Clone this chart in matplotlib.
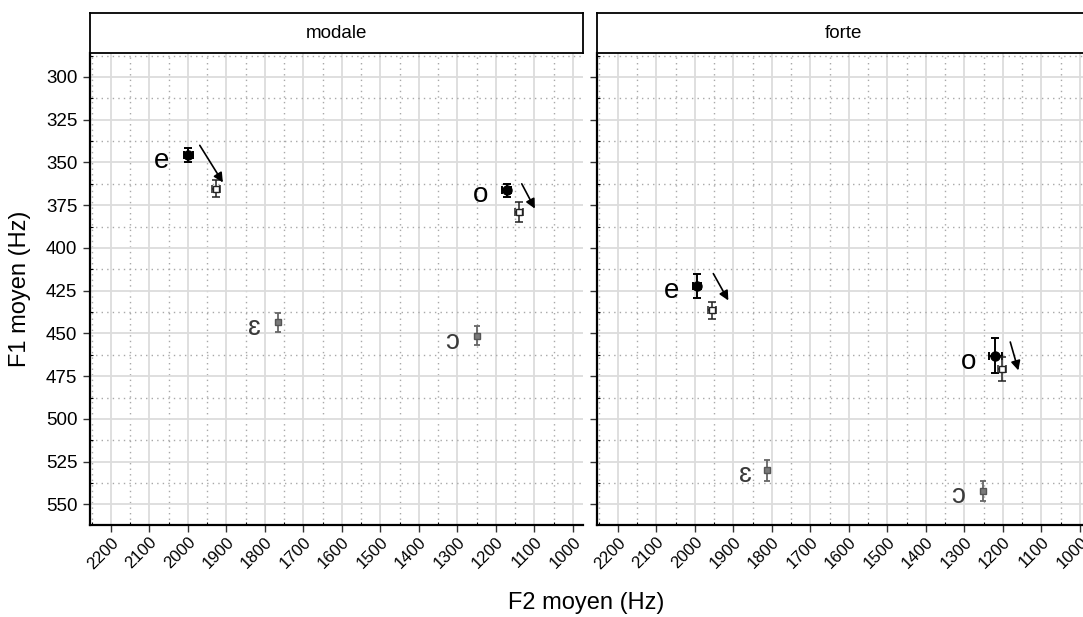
import matplotlib.pyplot as plt
from matplotlib.ticker import MultipleLocator

# police type Arial, repli DejaVu pour les symboles API
plt.rcParams['font.family'] = ['Liberation Sans', 'DejaVu Sans']

panneaux = ['modale', 'forte']

# voyelles e / o : point noir (avant) et point hachuré (après)
voy_ferm = ['e', 'o']
modale_f2_noir = [1999, 1172]
modale_f1_noir = [345.5, 366.4]
modale_ef2_noir = [12, 12]
modale_ef1_noir = [4, 4]
modale_f2_hach = [1927, 1140]
modale_f1_hach = [365.4, 379]
modale_ef2_hach = [10, 10]
modale_ef1_hach = [5, 6]

forte_f2_noir = [1993.5, 1220]
forte_f1_noir = [422, 462.9]
forte_ef2_noir = [10, 17]
forte_ef1_noir = [7, 10]
forte_f2_hach = [1956, 1203]
forte_f1_hach = [436.5, 470.6]
forte_ef2_hach = [10, 10]
forte_ef1_hach = [5, 7]

# voyelles ɛ / ɔ : point gris
voy_ouv = ['ɛ', 'ɔ']
modale_f2_gris = [1767, 1249]
modale_f1_gris = [443.4, 451.2]
modale_ef1_gris = [5.5, 5.5]
forte_f2_gris = [1813, 1251]
forte_f1_gris = [530, 542]
forte_ef1_gris = [6, 6]

# position des étiquettes (F2, F1)
modale_lab_f2 = [2067, 1241, 1826, 1315]
modale_lab_f1 = [349, 369, 447, 455]
forte_lab_f2 = [2060, 1290, 1870, 1316]
forte_lab_f1 = [425, 466.8, 533, 545]

# flèches (début -> fin)
modale_fl_f2 = [(1969, 1909), (1133, 1099)]
modale_fl_f1 = [(340, 361.7), (362.5, 377)]
forte_fl_f2 = [(1952, 1913), (1181, 1160)]
forte_fl_f1 = [(415, 430.7), (455, 471.6)]

donnees = {
    'modale': dict(f2n=modale_f2_noir, f1n=modale_f1_noir, ef2n=modale_ef2_noir, ef1n=modale_ef1_noir,
                   f2h=modale_f2_hach, f1h=modale_f1_hach, ef2h=modale_ef2_hach, ef1h=modale_ef1_hach,
                   f2g=modale_f2_gris, f1g=modale_f1_gris, ef1g=modale_ef1_gris,
                   lx=modale_lab_f2, ly=modale_lab_f1, ax_=modale_fl_f2, ay_=modale_fl_f1),
    'forte': dict(f2n=forte_f2_noir, f1n=forte_f1_noir, ef2n=forte_ef2_noir, ef1n=forte_ef1_noir,
                  f2h=forte_f2_hach, f1h=forte_f1_hach, ef2h=forte_ef2_hach, ef1h=forte_ef1_hach,
                  f2g=forte_f2_gris, f1g=forte_f1_gris, ef1g=forte_ef1_gris,
                  lx=forte_lab_f2, ly=forte_lab_f1, ax_=forte_fl_f2, ay_=forte_fl_f1),
}

fig = plt.figure(figsize=(10.83, 6.17), dpi=100)

W = 493 / 1083
H = 472 / 617
B = 1 - 525 / 617
gauches = [90 / 1083, 597 / 1083]

for i, nom in enumerate(panneaux):
    d = donnees[nom]
    ax = fig.add_axes([gauches[i], B, W, H])
    ax.set_xlim(2254, 974)
    ax.set_ylim(562, 286)

    ax.xaxis.set_major_locator(MultipleLocator(100))
    ax.xaxis.set_minor_locator(MultipleLocator(50))
    ax.yaxis.set_major_locator(MultipleLocator(25))
    ax.yaxis.set_minor_locator(MultipleLocator(12.5))
    ax.grid(which='major', color='#dcdcdc', lw=1.3, ls='-')
    ax.grid(which='minor', color='#a8a8a8', lw=1, ls=(0, (1, 3)))
    ax.set_axisbelow(True)

    for s in ['top', 'right']:
        ax.spines[s].set_visible(False)
    for s in ['left', 'bottom']:
        ax.spines[s].set_linewidth(1.6)
        ax.spines[s].set_color('black')

    ax.tick_params(which='major', length=5, width=1, color='#333333')
    ax.tick_params(axis='y', labelsize=13.5, pad=4)
    ax.tick_params(which='minor', length=2.5, width=0.8, direction='in', color='black')
    ax.tick_params(axis='x', labelsize=12, pad=2)
    plt.setp(ax.get_xticklabels(), rotation=45, ha='right', rotation_mode='anchor')
    if i == 1:
        ax.tick_params(axis='y', labelleft=False)

    # points noirs
    ax.errorbar(d['f2n'], d['f1n'], xerr=d['ef2n'], yerr=d['ef1n'], fmt='o', color='black',
                ms=6.5, lw=1.4, capsize=3, capthick=1.4, zorder=4)
    # points hachurés
    ax.errorbar(d['f2h'], d['f1h'], xerr=d['ef2h'], yerr=d['ef1h'], fmt='s', color='#222222',
                mfc='white', mec='#222222', ms=5, lw=1.1, capsize=3, capthick=1.1, zorder=4)
    # points gris
    ax.errorbar(d['f2g'], d['f1g'], yerr=d['ef1g'], fmt='s', color='#666666',
                mfc='#7a7a7a', mec='#555555', ms=5, lw=1.3, capsize=2.5, capthick=1.3, zorder=4)

    # étiquettes des voyelles
    for j, v in enumerate(voy_ferm + voy_ouv):
        col = 'black' if v in voy_ferm else '#3a3a3a'
        ax.text(d['lx'][j], d['ly'][j], v, fontsize=20, color=col, ha='center', va='center',
                family=['Liberation Sans', 'DejaVu Sans'], zorder=5)

    # flèches
    for (x0, x1), (y0, y1) in zip(d['ax_'], d['ay_']):
        ax.annotate('', xy=(x1, y1), xytext=(x0, y0),
                    arrowprops=dict(arrowstyle='-|>', color='black', lw=1.2, mutation_scale=14,
                                    shrinkA=0, shrinkB=0), zorder=6)

    # bandeau du panneau
    sax = fig.add_axes([gauches[i], B + H, W, 40 / 617])
    sax.set_xticks([])
    sax.set_yticks([])
    for s in sax.spines.values():
        s.set_linewidth(1.3)
        s.set_color('black')
    sax.text(0.5, 0.5, nom, ha='center', va='center', fontsize=13.5, transform=sax.transAxes)

fig.text(586 / 1083, 1 - 603 / 617, 'F2 moyen (Hz)', ha='center', va='center', fontsize=17)
fig.text(20 / 1083, 1 - 289 / 617, 'F1 moyen (Hz)', ha='center', va='center', fontsize=17, rotation=90)

fig.savefig('out.png', dpi=100)
